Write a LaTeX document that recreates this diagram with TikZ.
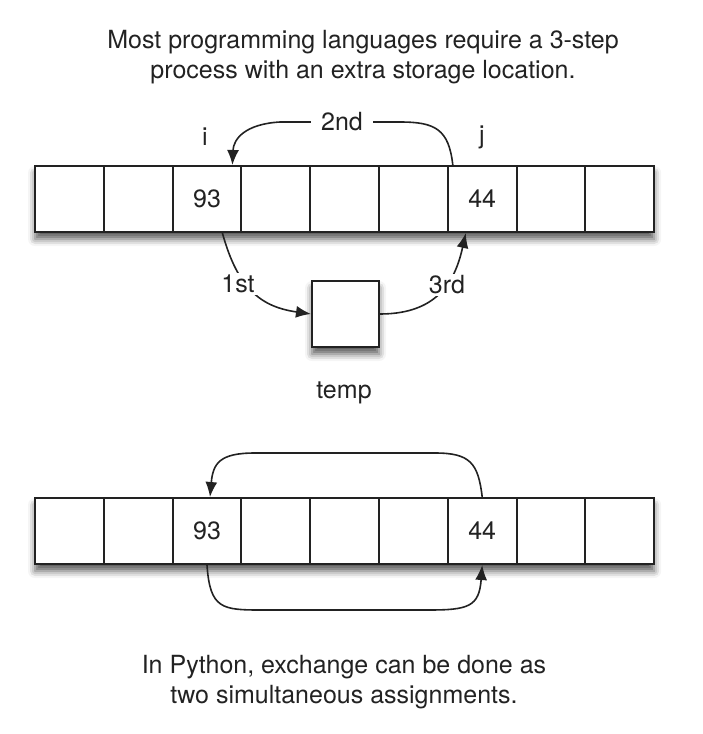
\documentclass[tikz,border=0pt]{standalone}
\usepackage{fontspec}
\setmainfont{TeX Gyre Heros}
\usetikzlibrary{arrows.meta,shadows.blur}
\definecolor{ink}{HTML}{222222}
\tikzset{
  txt/.style={text=ink, font=\fontsize{25}{30}\selectfont},
  cell/.style={txt, draw=ink, line width=2pt, minimum width=68.8pt, minimum height=66pt, inner sep=0pt, fill=white},
  softshadow/.style={blur shadow={shadow xshift=0pt, shadow yshift=-7pt, shadow blur radius=7pt, shadow opacity=65}},
  rowshadow/.style={inner sep=0pt, fill=white, minimum width=619.2pt, minimum height=66pt, softshadow},
  lbl/.style={txt, inner sep=1pt},
  wlbl/.style={lbl, fill=white, inner sep=2pt},
  conn/.style={draw=ink, line width=1.6pt},
  arr/.style={conn, -{Latex[length=15pt,width=12pt]}},
}
\begin{document}
\begin{tikzpicture}[x=1pt,y=-1pt]
\useasboundingbox (0,0) rectangle (702,734);
% titles
\node[lbl, align=center] (title) at (363,57) {Most programming languages require a 3-step\\process with an extra storage location.};
\node[lbl, align=center] (foot) at (344,682) {In Python, exchange can be done as\\two simultaneous assignments.};
% row shadows
\node[rowshadow] (trow) at (344.6,199) {};
\node[rowshadow] (brow) at (344.6,531) {};
% rows
\foreach \k/\v in {1/{},2/{},3/93,4/{},5/{},6/{},7/44,8/{},9/{}}
  \node[cell] (t\k) at ({35+68.8*(\k-0.5)},199) {\v};
\foreach \k/\v in {1/{},2/{},3/93,4/{},5/{},6/{},7/44,8/{},9/{}}
  \node[cell] (b\k) at ({35+68.8*(\k-0.5)},531) {\v};
% temp box
\node[cell, minimum width=67pt, minimum height=66pt, softshadow] (temp) at (345.5,314) {};
\node[lbl] (templbl) at (344,393) {temp};
\node[lbl] (ilbl) at (205,137) {i};
\node[lbl] (jlbl) at (482,137) {j};
% 2nd
\draw[arr] ([xshift=6pt]t7.north west) .. controls +(-4,-36) and +(35,0) .. (400,122) -- (280,122) .. controls +(-35,2) and +(1,-26) .. ([xshift=-10pt]t3.north east);
\node[wlbl, inner xsep=10pt] (l2) at (342,122) {2nd};
% 1st
\draw[arr] ([xshift=-20pt]t3.south east) .. controls (238,290) and (262,307) .. (temp.west);
\node[wlbl] (l1) at (238,284) {1st};
% 3rd
\draw[arr] (temp.east) .. controls +(60,0) and +(-10,45) .. ([xshift=19pt]t7.south west);
\node[wlbl] (l3) at (447,285) {3rd};
% python arrows
\draw[arr] (b7.north) .. controls +(-4,-34) and +(35,0) .. (435,453) -- (255,453) .. controls +(-35,0) and +(3,-34) .. ([xshift=3pt]b3.north);
\draw[arr] (b3.south) .. controls +(3,44) and +(-40,0) .. (262,610) -- (428,610) .. controls +(40,0) and +(-3,42) .. (b7.south);
\end{tikzpicture}
\end{document}
